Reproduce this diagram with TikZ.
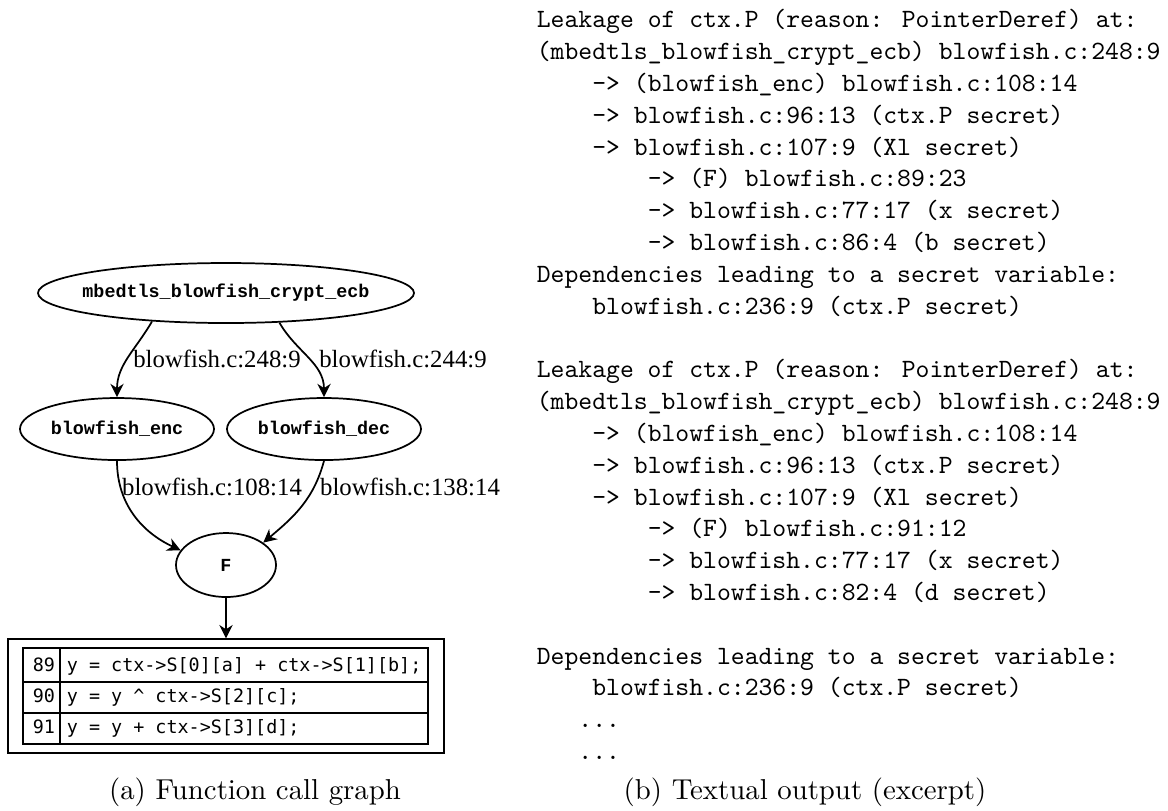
\documentclass[tikz,border=0pt]{standalone}
\usepackage{fontspec}
\usetikzlibrary{arrows.meta,shapes.geometric,positioning}
\newfontfamily\gvfont{Liberation Mono}
\newfontfamily\lblfont{Liberation Serif}
\newfontfamily\codefont{DejaVu Sans Mono}
\newfontfamily\rptfont{lmmono10-regular}[Extension=.otf]
\newcommand{\fname}[1]{\makebox[0pt]{#1}}
\tikzset{
  fn/.style     = { draw, ellipse, inner sep=0pt, font=\gvfont\bfseries\fontsize{6.9}{8}\selectfont },
  lbl/.style    = { inner sep=0pt, anchor=base, font=\lblfont\fontsize{9.3}{11}\selectfont },
  codeln/.style = { inner sep=0pt, anchor=base west, font=\codefont\fontsize{6.9}{8}\selectfont },
  report/.style = { inner sep=0pt, anchor=north west, align=left,
    font=\rptfont\fontsize{9.9}{11.93}\selectfont },
  capt/.style   = { inner sep=0pt, anchor=base, font=\fontsize{10.8}{13}\selectfont }
}

\begin{document}
\begin{tikzpicture}[x=0.375pt, y=-0.375pt, line width=0.65pt,
    >={Stealth[length=5pt,width=5pt,inset=1.6pt]}]
  \useasboundingbox (0,0) rectangle (1168,810);

  % call graph
  \node[fn, minimum width=141pt, minimum height=22.5pt] (top) at (226,293) {\fname{mbedtls\_blowfish\_crypt\_ecb}};
  \node[fn, minimum width=72.75pt, minimum height=23.25pt] (enc) at (117,429) {\fname{blowfish\_enc}};
  \node[fn, minimum width=72.75pt, minimum height=23.25pt] (dec) at (324,429) {\fname{blowfish\_dec}};
  \node[fn, minimum width=37.5pt, minimum height=24pt] (F) at (226,565) {F};
  \node[draw, line width=0.5pt, inner sep=0pt, minimum width=163.5pt, minimum height=42.75pt] (code) at (226,696) {};

  \path[->] (top.201) edge[out=240, in=90] (enc);
  \path[->] (top.331) edge[out=-60, in=90] (dec);
  \path[->] (enc.south) edge[out=-90, in=155] (F.162);
  \path[->] (dec.south) edge[out=-105, in=40] (F.31);
  \path[->] (F) edge (code);

  \node[lbl] (l1) at (217,367) {blowfish.c:248:9};
  \node[lbl] (l2) at (403,367) {blowfish.c:244:9};
  \node[lbl] (l3) at (212,495) {blowfish.c:108:14};
  \node[lbl] (l4) at (410,495) {blowfish.c:138:14};

  % source lines of F
  \draw[line width=1.1pt] (23,648) rectangle (428,744);
  \draw[line width=0.6pt] (23,682) -- (428,682);
  \draw[line width=0.6pt] (23,713) -- (428,713);
  \draw[line width=0.6pt] (60,648) -- (60,744);
  \node[codeln] (n89) at (32,671) {89};
  \node[codeln] (n90) at (32,702) {90};
  \node[codeln] (n91) at (32,733) {91};
  \node[codeln] (c89) at (66,671) {y = ctx->S[0][a] + ctx->S[1][b];};
  \node[codeln] (c90) at (66,702) {y = y \textasciicircum{} ctx->S[2][c];};
  \node[codeln] (c91) at (66,733) {y = y + ctx->S[3][d];};

  % textual output
  \node[report] (out) at (536,4.7) {%
    \strut Leakage of ctx.P (reason: PointerDeref) at:\\
    \strut (mbedtls\_blowfish\_crypt\_ecb) blowfish.c:248:9\\
    \strut\phantom{----}-> (blowfish\_enc) blowfish.c:108:14\\
    \strut\phantom{----}-> blowfish.c:96:13 (ctx.P secret)\\
    \strut\phantom{----}-> blowfish.c:107:9 (Xl secret)\\
    \strut\phantom{--------}-> (F) blowfish.c:89:23\\
    \strut\phantom{--------}-> blowfish.c:77:17 (x secret)\\
    \strut\phantom{--------}-> blowfish.c:86:4 (b secret)\\
    \strut Dependencies leading to a secret variable:\\
    \strut\phantom{----}blowfish.c:236:9 (ctx.P secret)\\
    \strut\\
    \strut Leakage of ctx.P (reason: PointerDeref) at:\\
    \strut (mbedtls\_blowfish\_crypt\_ecb) blowfish.c:248:9\\
    \strut\phantom{----}-> (blowfish\_enc) blowfish.c:108:14\\
    \strut\phantom{----}-> blowfish.c:96:13 (ctx.P secret)\\
    \strut\phantom{----}-> blowfish.c:107:9 (Xl secret)\\
    \strut\phantom{--------}-> (F) blowfish.c:91:12\\
    \strut\phantom{--------}-> blowfish.c:77:17 (x secret)\\
    \strut\phantom{--------}-> blowfish.c:82:4 (d secret)\\
    \strut\\
    \strut Dependencies leading to a secret variable:\\
    \strut\phantom{----}blowfish.c:236:9 (ctx.P secret)\\
    \strut\phantom{---}...\\
    \strut\phantom{---}...};

  \node[capt] (capa) at (255,799) {(a) Function call graph};
  \node[capt] (capb) at (805,799) {(b) Textual output (excerpt)};
\end{tikzpicture}
\end{document}
